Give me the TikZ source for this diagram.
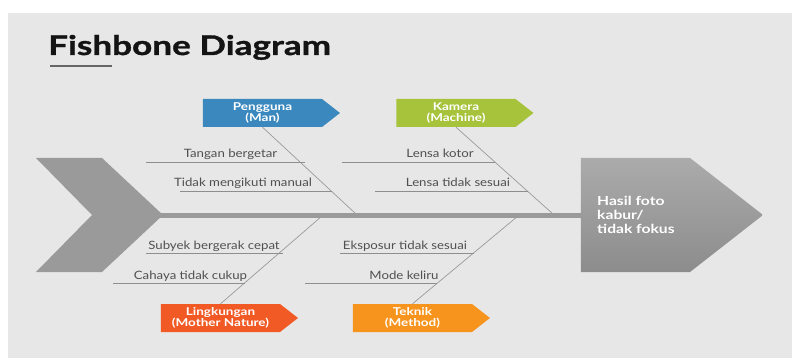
\documentclass[tikz,border=0pt]{standalone}
\usepackage{fontspec}
\setmainfont{Lato}
\newfontfamily\titlefont{Lato}[FakeStretch=1.3, BoldFeatures={FakeBold=1.2}]
\newfontfamily\labelfont{Lato}[FakeStretch=1.25]
\newfontfamily\causefont{Lato}[FakeStretch=1.15]
\usetikzlibrary{shapes.symbols}
\definecolor{panel}{HTML}{E8E7E7}
\definecolor{bonegray}{HTML}{9A9A9A}
\definecolor{linegray}{HTML}{8E8E8E}
\definecolor{txtgray}{HTML}{505050}
\definecolor{manblue}{HTML}{3A88BE}
\definecolor{machgreen}{HTML}{A6C33B}
\definecolor{natred}{HTML}{F15A24}
\definecolor{methorange}{HTML}{F7941D}
\tikzset{
  catbox/.style={signal, signal to=east, signal from=nowhere, signal pointer angle=76,
    minimum width=137pt, minimum height=28pt, inner sep=0pt, text=white,
    font=\labelfont\fontsize{10.8}{11.5}\selectfont\bfseries, align=center},
  cause/.style={anchor=base, text=txtgray, font=\causefont\fontsize{11.5}{13}\selectfont, inner sep=0pt},
  subline/.style={draw=linegray, line width=0.8pt},
  bone/.style={draw=bonegray, line width=0.7pt},
}
\begin{document}
\begin{tikzpicture}[x=1pt,y=-1pt]
\useasboundingbox (0,0) rectangle (792,358);
\fill[white] (0,0) rectangle (792,358);
\fill[panel] (8,13) rectangle (792,358);
% title
\node[anchor=base west, inner sep=0pt, font=\titlefont\fontsize{27}{30}\selectfont\bfseries, text=black!92] (title) at (48,55) {Fishbone Diagram};
\coordinate (ul1) at (50,66);
\coordinate (ul2) at (112,66);
\draw[draw=black!60, line width=1.2pt] (ul1) -- (ul2);
% tail
\fill[bonegray] (36,158) -- (102,158) -- (163,215) -- (102,272) -- (36,272) -- (92,215) -- cycle;
\coordinate (tail) at (160,215);
% head
\node[signal, signal to=east, signal from=nowhere, signal pointer angle=76,
  minimum width=182pt, minimum height=114pt, inner sep=0pt,
  top color=black!33, bottom color=black!45, draw=none] (head) at (635.5,215) {};
\node[anchor=west, inner sep=0pt, text=white, align=left,
  font=\labelfont\fontsize{12.5}{14}\selectfont\bfseries] (headtxt) at (597,215) {Hasil foto\\kabur/\\tidak fokus};
% spine
\draw[draw=bonegray, line width=5pt] (tail) -- (head.west);
% categories
\node[catbox, fill=manblue] (man) at (262.5,113) {Pengguna\\(Man)};
\node[catbox, fill=machgreen] (mach) at (456,113) {Kamera\\(Machine)};
\node[catbox, fill=natred] (nat) at (220.5,318) {Lingkungan\\(Mother Nature)};
\node[catbox, fill=methorange] (meth) at (412.5,318) {Teknik\\(Method)};
% junctions
\coordinate (jman) at (356,214);
\coordinate (jmach) at (553,214);
\coordinate (jnat) at (322,216);
\coordinate (jmeth) at (518,216);
\draw[bone] (man.south) -- (jman);
\draw[bone] (mach.south) -- (jmach);
\draw[bone] (nat.north) -- (jnat);
\draw[bone] (meth.north) -- (jmeth);
% causes
\node[cause] (c1) at (230.5,158) {Tangan bergetar};
\coordinate (c1a) at (146,162); \coordinate (c1b) at (305,162);
\draw[subline] (c1a) -- (c1b);
\node[cause] (c2) at (243,187) {Tidak mengikuti manual};
\coordinate (c2a) at (180,191); \coordinate (c2b) at (332,191);
\draw[subline] (c2a) -- (c2b);
\node[cause] (c3) at (440,158) {Lensa kotor};
\coordinate (c3a) at (342,162); \coordinate (c3b) at (495,162);
\draw[subline] (c3a) -- (c3b);
\node[cause] (c4) at (458,187) {Lensa tidak sesuai};
\coordinate (c4a) at (375,191); \coordinate (c4b) at (528,191);
\draw[subline] (c4a) -- (c4b);
\node[cause] (c5) at (214,249) {Subyek bergerak cepat};
\coordinate (c5a) at (146,253); \coordinate (c5b) at (283,253);
\draw[subline] (c5a) -- (c5b);
\node[cause] (c6) at (190.5,279) {Cahaya tidak cukup};
\coordinate (c6a) at (113,283); \coordinate (c6b) at (245,283);
\draw[subline] (c6a) -- (c6b);
\node[cause] (c7) at (405,249) {Eksposur tidak sesuai};
\coordinate (c7a) at (340,253); \coordinate (c7b) at (474,253);
\draw[subline] (c7a) -- (c7b);
\node[cause] (c8) at (404,279) {Mode keliru};
\coordinate (c8a) at (305,283); \coordinate (c8b) at (437,283);
\draw[subline] (c8a) -- (c8b);
\end{tikzpicture}
\end{document}
